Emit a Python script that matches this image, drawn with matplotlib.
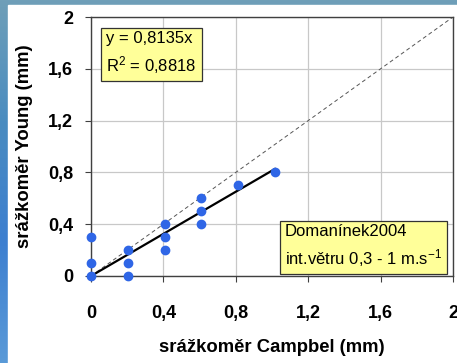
import numpy as np
import matplotlib
matplotlib.use("Agg")
import matplotlib.pyplot as plt

# === DATA ===
campbel = [0, 0, 0, 0.2032, 0.2032, 0.2032, 0.4064, 0.4064, 0.4064,
           0.6096, 0.6096, 0.6096, 0.8128, 1.016]
young = [0, 0.1, 0.3, 0, 0.1, 0.2, 0.2, 0.3, 0.4, 0.4, 0.5, 0.6, 0.7, 0.8]
slope = 0.8135
r2 = 0.8818
ticks = [0, 0.4, 0.8, 1.2, 1.6, 2]
tick_labels = ["0", "0,4", "0,8", "1,2", "1,6", "2"]

plt.rcParams['font.family'] = ['Liberation Sans', 'DejaVu Sans']
plt.rcParams['mathtext.fontset'] = 'custom'
plt.rcParams['mathtext.rm'] = 'Liberation Sans'
plt.rcParams['mathtext.it'] = 'Liberation Sans'

fig = plt.figure(figsize=(4.57, 3.63), dpi=100)

# background (water-like blue strip at left and top)
bg = fig.add_axes([0, 0, 1, 1], zorder=-10)
grad = np.linspace(0, 1, 256).reshape(-1, 1)
bg.imshow(grad, aspect='auto', cmap=matplotlib.colors.LinearSegmentedColormap.from_list(
    'w', ['#6f9fb8', '#4a8cc0', '#3d7fd0', '#5a9ad8']), extent=[0, 1, 0, 1])
bg.add_patch(plt.Rectangle((8 / 457, 0), 1, 1 - 5 / 363, color='white'))
bg.set_xlim(0, 1)
bg.set_ylim(0, 1)
bg.axis('off')

ax = fig.add_axes([91 / 457, 87 / 363, 362 / 457, 259 / 363])
ax.set_xlim(0, 2)
ax.set_ylim(0, 2)

# 1:1 line
ax.plot([0, 2], [0, 2], color='#555555', lw=0.7, dashes=(4, 3), zorder=2)
# regression line
xr = np.array([0, max(campbel)])
ax.plot(xr, slope * xr, color='black', lw=1.6, zorder=3)
ax.plot(campbel, young, 'o', color='#2f66e6', ms=6, mec='#2f66e6', zorder=4,
        clip_on=False)

ax.set_xticks(ticks)
ax.set_xticklabels(tick_labels)
ax.set_yticks(ticks)
ax.set_yticklabels(tick_labels)
ax.tick_params(axis='x', direction='out', length=4, pad=17, labelsize=13,
               color='#404040')
ax.tick_params(axis='y', direction='out', length=4, pad=9, labelsize=13,
               color='#404040')
for lab in ax.get_xticklabels() + ax.get_yticklabels():
    lab.set_fontweight('bold')
ax.grid(True, color='#c8c8c8', lw=0.9)
ax.set_axisbelow(True)
for s in ax.spines.values():
    s.set_color('#404040')
    s.set_linewidth(1)

ax.set_xlabel("srážkoměr Campbel (mm)", fontsize=13.3, fontweight='bold',
              labelpad=12)
ax.set_ylabel("srážkoměr Young (mm)", fontsize=13.3, fontweight='bold',
              labelpad=11)

box = dict(boxstyle='square,pad=0.3', fc='#ffff99', ec='#333333', lw=0.9)
ax.text(0.085, 1.72, "y = 0,8135x\nR$^2$ = 0,8818", fontsize=12, va='center',
        ha='left', bbox=box, linespacing=1.45)
ax.text(1.07, 0.228, "Domanínek2004\nint.větru 0,3 - 1 m.s$^{-1}$", fontsize=12,
        va='center', ha='left', bbox=box, linespacing=1.45)

plt.savefig("out.png", dpi=100)
